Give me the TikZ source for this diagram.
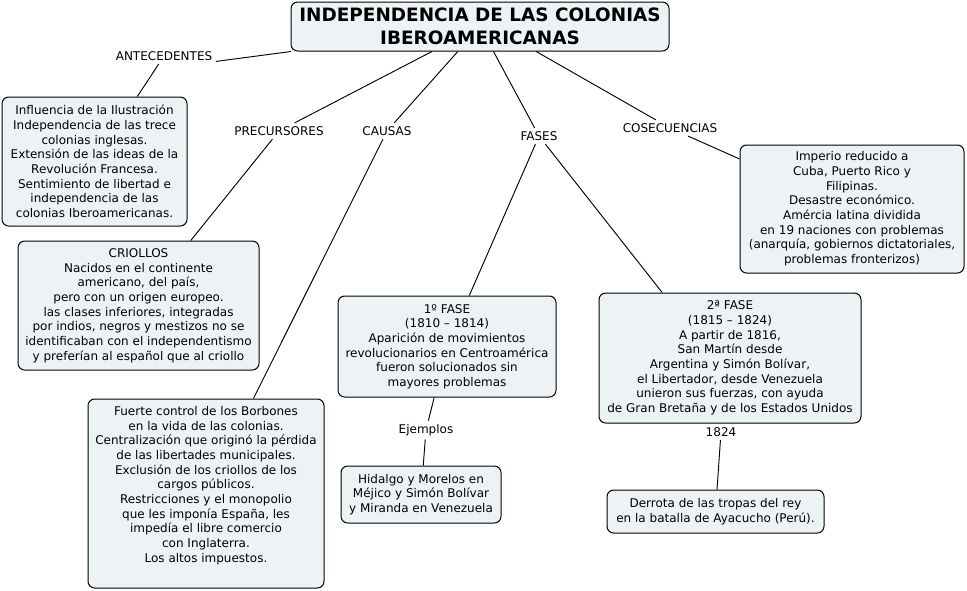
\documentclass[tikz,border=0pt]{standalone}
\usepackage{fontspec}
\setmainfont{DejaVu Sans}
\usepackage{tikz}
\usetikzlibrary{arrows,shapes}
\usetikzlibrary{positioning}
\definecolor{boxfill}{RGB}{237,243,245}
\tikzstyle{concept} = [draw, rounded corners=5pt, fill=boxfill, align=center,
    font=\fontsize{9}{11}\selectfont, inner sep=2pt, line width=0.75pt]
\tikzstyle{phrase} = [align=center, font=\fontsize{9}{11}\selectfont, inner sep=2.5pt]
\tikzstyle{link} = [line width=0.7pt]

\begin{document}
\begin{tikzpicture}[x=0.75pt, y=-0.75pt]
  \useasboundingbox (0,0) rectangle (967,590);
  % Place nodes
  \node [concept, minimum width=283.5pt, minimum height=36.75pt,
    font=\bfseries\fontsize{13.8}{16.9}\selectfont] (ind) at (480,26.5)
  {INDEPENDENCIA DE LAS COLONIAS\\IBEROAMERICANAS};
  \node [phrase] (ante) at (164,56) {ANTECEDENTES};
  \node [phrase] (prec) at (279,131) {PRECURSORES};
  \node [phrase] (caus) at (387,131) {CAUSAS};
  \node [phrase] (fase) at (539,136) {FASES};
  \node [phrase] (cons) at (670,128) {COSECUENCIAS};
  \node [concept, minimum width=138.75pt, minimum height=96.75pt] (ilus) at (94.5,161.5)
  {Influencia de la Ilustración\\Independencia de las trece\\colonias inglesas.\\
   Extensión de las ideas de la\\Revolución Francesa.\\Sentimiento de libertad e\\
   independencia de las\\colonias Iberoamericanas.};
  \node [concept, minimum width=180.75pt, minimum height=96.75pt] (crio) at (138.5,305.5)
  {CRIOLLOS\\Nacidos en el continente\\americano, del país,\\pero con un origen europeo.\\
   las clases inferiores, integradas\\por indios, negros y mestizos no se\\
   identificaban con el independentismo\\y preferían al español que al criollo};
  \node [concept, minimum width=177pt, minimum height=141.75pt] (borb) at (206,493.5)
  {Fuerte control de los Borbones\\en la vida de las colonias.\\
   Centralización que originó la pérdida\\de las libertades municipales.\\
   Exclusión de los criollos de los\\cargos públicos.\\Restricciones y el monopolio\\
   que les imponía España, les\\impedía el libre comercio\\con Inglaterra.\\
   Los altos impuestos.\\[3pt]\mbox{}};
  \node [concept, minimum width=163.5pt, minimum height=75.75pt] (f1) at (447,346.5)
  {1º FASE\\(1810 – 1814)\\Aparición de movimientos\\revolucionarios en Centroamérica\\
   fueron solucionados sin\\mayores problemas};
  \node [concept, minimum width=196.5pt, minimum height=97.5pt] (f2) at (730,358)
  {2ª FASE\\(1815 – 1824)\\A partir de 1816,\\San Martín desde\\Argentina y Simón Bolívar,\\
   el Libertador, desde Venezuela\\unieron sus fuerzas, con ayuda\\
   de Gran Bretaña y de los Estados Unidos};
  \node [concept, minimum width=168pt, minimum height=96pt] (impe) at (852,209)
  {Imperio reducido a\\Cuba, Puerto Rico y\\Filipinas.\\Desastre económico.\\
   Amércia latina dividida\\en 19 naciones con problemas\\
   (anarquía, gobiernos dictatoriales,\\problemas fronterizos)};
  \node [phrase] (ejem) at (426,430) {Ejemplos};
  \node [concept, minimum width=120pt, minimum height=42.75pt] (hida) at (421,494.5)
  {Hidalgo y Morelos en\\Méjico y Simón Bolívar\\y Miranda en Venezuela};
  \node [phrase] (ano) at (721,432) {1824};
  \node [concept, minimum width=162.75pt, minimum height=32.25pt] (ayac) at (715.5,511.5)
  {Derrota de las tropas del rey\\en la batalla de Ayacucho (Perú).};
  % Links
  \draw [link] (ind) -- (ante.-6);
  \draw [link] (ante) -- (ilus);
  \draw [link] (ind) -- (prec) -- (crio);
  \draw [link] (ind) -- (caus) -- (borb);
  \draw [link] (ind) -- (fase) -- (f1);
  \draw [link] (fase) -- (f2.136);
  \draw [link] (ind.-24) -- (cons) -- (impe);
  \draw [link] (f1) -- (ejem) -- (hida);
  \draw [link] (f2) -- (ano) -- (ayac);
\end{tikzpicture}
\end{document}
